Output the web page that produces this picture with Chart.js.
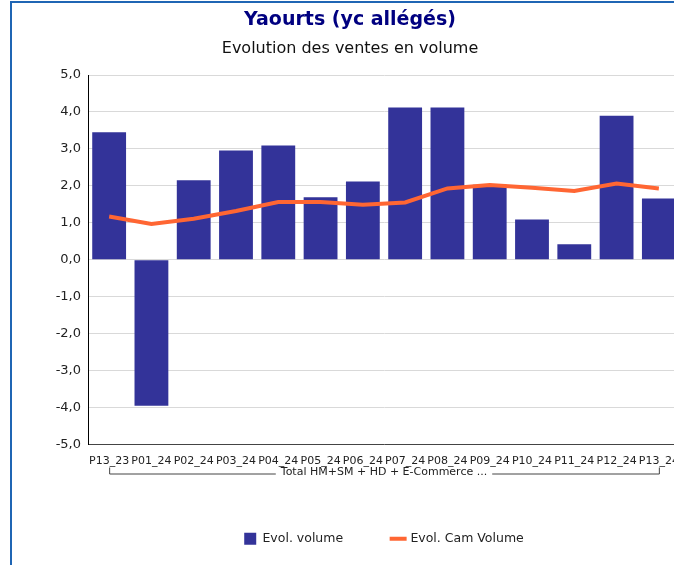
<!DOCTYPE html>
<html>
<head>
<meta charset="utf-8">
<script src="https://cdn.jsdelivr.net/npm/chart.js@4"></script>
<style>
  html, body { margin: 0; padding: 0; background: #fff; overflow: hidden; }
  #frame {
    position: absolute; left: 10px; top: 1px;
    width: 1000px; height: 1000px;
    border: 2px solid #1f65b4; box-sizing: border-box;
  }
  #chart { position: absolute; left: 12px; top: 3px; }
</style>
</head>
<body>
<div id="frame"></div>
<canvas id="chart" width="678" height="552"></canvas>
<script>
const periods = ["P13_23", "P01_24", "P02_24", "P03_24", "P04_24", "P05_24", "P06_24",
                 "P07_24", "P08_24", "P09_24", "P10_24", "P11_24", "P12_24", "P13_24"];
const evolVolume = [3.45, -3.95, 2.15, 2.96, 3.09, 1.69, 2.12, 4.12, 4.12, 2.03, 1.09, 0.42, 3.90, 1.66];
const evolCamVolume = [1.17, 0.97, 1.11, 1.32, 1.56, 1.56, 1.49, 1.55, 1.93, 2.02, 1.95, 1.86, 2.06, 1.93];
const groupLabel = "Total HM+SM + HD + E-Commerce ...";

const FONT = "'DejaVu Sans', Verdana, sans-serif";

// bracket + group label under the period ticks
const groupPlugin = {
    id: "groupBracket",
    afterDraw(chart) {
        const x = chart.scales.x;
        const ctx = chart.ctx;
        const left = x.getPixelForValue(0);
        const right = x.getPixelForValue(periods.length - 1);
        const yLine = x.top + 29;
        const yText = x.top + 28;
        ctx.save();
        ctx.font = "11px " + FONT;
        ctx.fillStyle = "#222";
        ctx.textAlign = "center";
        ctx.textBaseline = "middle";
        const mid = (left + right) / 2;
        const tw = ctx.measureText(groupLabel).width;
        ctx.fillText(groupLabel, mid, yText);
        ctx.strokeStyle = "#444";
        ctx.lineWidth = 1;
        ctx.beginPath();
        ctx.moveTo(left + 0.5, yLine - 6);
        ctx.lineTo(left + 0.5, yLine + 0.5);
        ctx.lineTo(mid - tw / 2 - 5, yLine + 0.5);
        ctx.moveTo(mid + tw / 2 + 5, yLine + 0.5);
        ctx.lineTo(right + 0.5, yLine + 0.5);
        ctx.lineTo(right + 0.5, yLine - 6);
        ctx.stroke();
        ctx.restore();
    }
};

const ctx = document.getElementById("chart").getContext("2d");
new Chart(ctx, {
    type: "bar",
    data: {
        labels: periods,
        datasets: [{
            type: "bar",
            label: "Evol. volume",
            data: evolVolume,
            backgroundColor: "#333399",
            borderWidth: 0,
            barPercentage: 0.8,
            categoryPercentage: 1.0,
            pointStyle: "rect",
            order: 1,
        }, {
            type: "line",
            label: "Evol. Cam Volume",
            data: evolCamVolume,
            borderColor: "#ff6633",
            backgroundColor: "#ff6633",
            borderWidth: 4,
            pointRadius: 0,
            pointStyle: "line",
            tension: 0,
            order: 0,
        }]
    },
    options: {
        responsive: false,
        animation: false,
        devicePixelRatio: 1,
        layout: { padding: { left: 8, right: 10, top: 0, bottom: 0 } },
        scales: {
            x: {
                grid: { display: false, drawTicks: false },
                border: { display: true, color: "#444", width: 1 },
                ticks: {
                    color: "#222", font: { family: FONT, size: 11 },
                    padding: 10, maxRotation: 0, autoSkip: false,
                },
                afterFit(s) { s.height = 39; },
            },
            y: {
                min: -5, max: 5,
                grid: { color: "#d9d9d9", drawTicks: false },
                border: { display: true, color: "#000", width: 1 },
                ticks: {
                    stepSize: 1, color: "#222", font: { family: FONT, size: 13 }, padding: 7,
                    callback: v => v.toFixed(1).replace(".", ","),
                },
                afterFit(s) { s.width = 68; },
            }
        },
        plugins: {
            title: {
                display: true,
                text: "Yaourts (yc allégés)",
                color: "#000080",
                font: { family: FONT, size: 19, weight: "bold" },
                padding: { top: 6, bottom: 4 },
            },
            subtitle: {
                display: true,
                text: "Evolution des ventes en volume",
                color: "#111",
                font: { family: FONT, size: 16 },
                padding: { top: 3, bottom: 17 },
            },
            legend: {
                position: "bottom",
                fullSize: false,
                labels: {
                    color: "#222",
                    font: { family: FONT, size: 12.5 },
                    usePointStyle: true,
                    boxWidth: 12, boxHeight: 12,
                    padding: 49,
                    sort: (a, b) => a.datasetIndex - b.datasetIndex,
                },
            },
            tooltip: { enabled: false },
        }
    },
    plugins: [groupPlugin]
});
</script>
</body>
</html>
